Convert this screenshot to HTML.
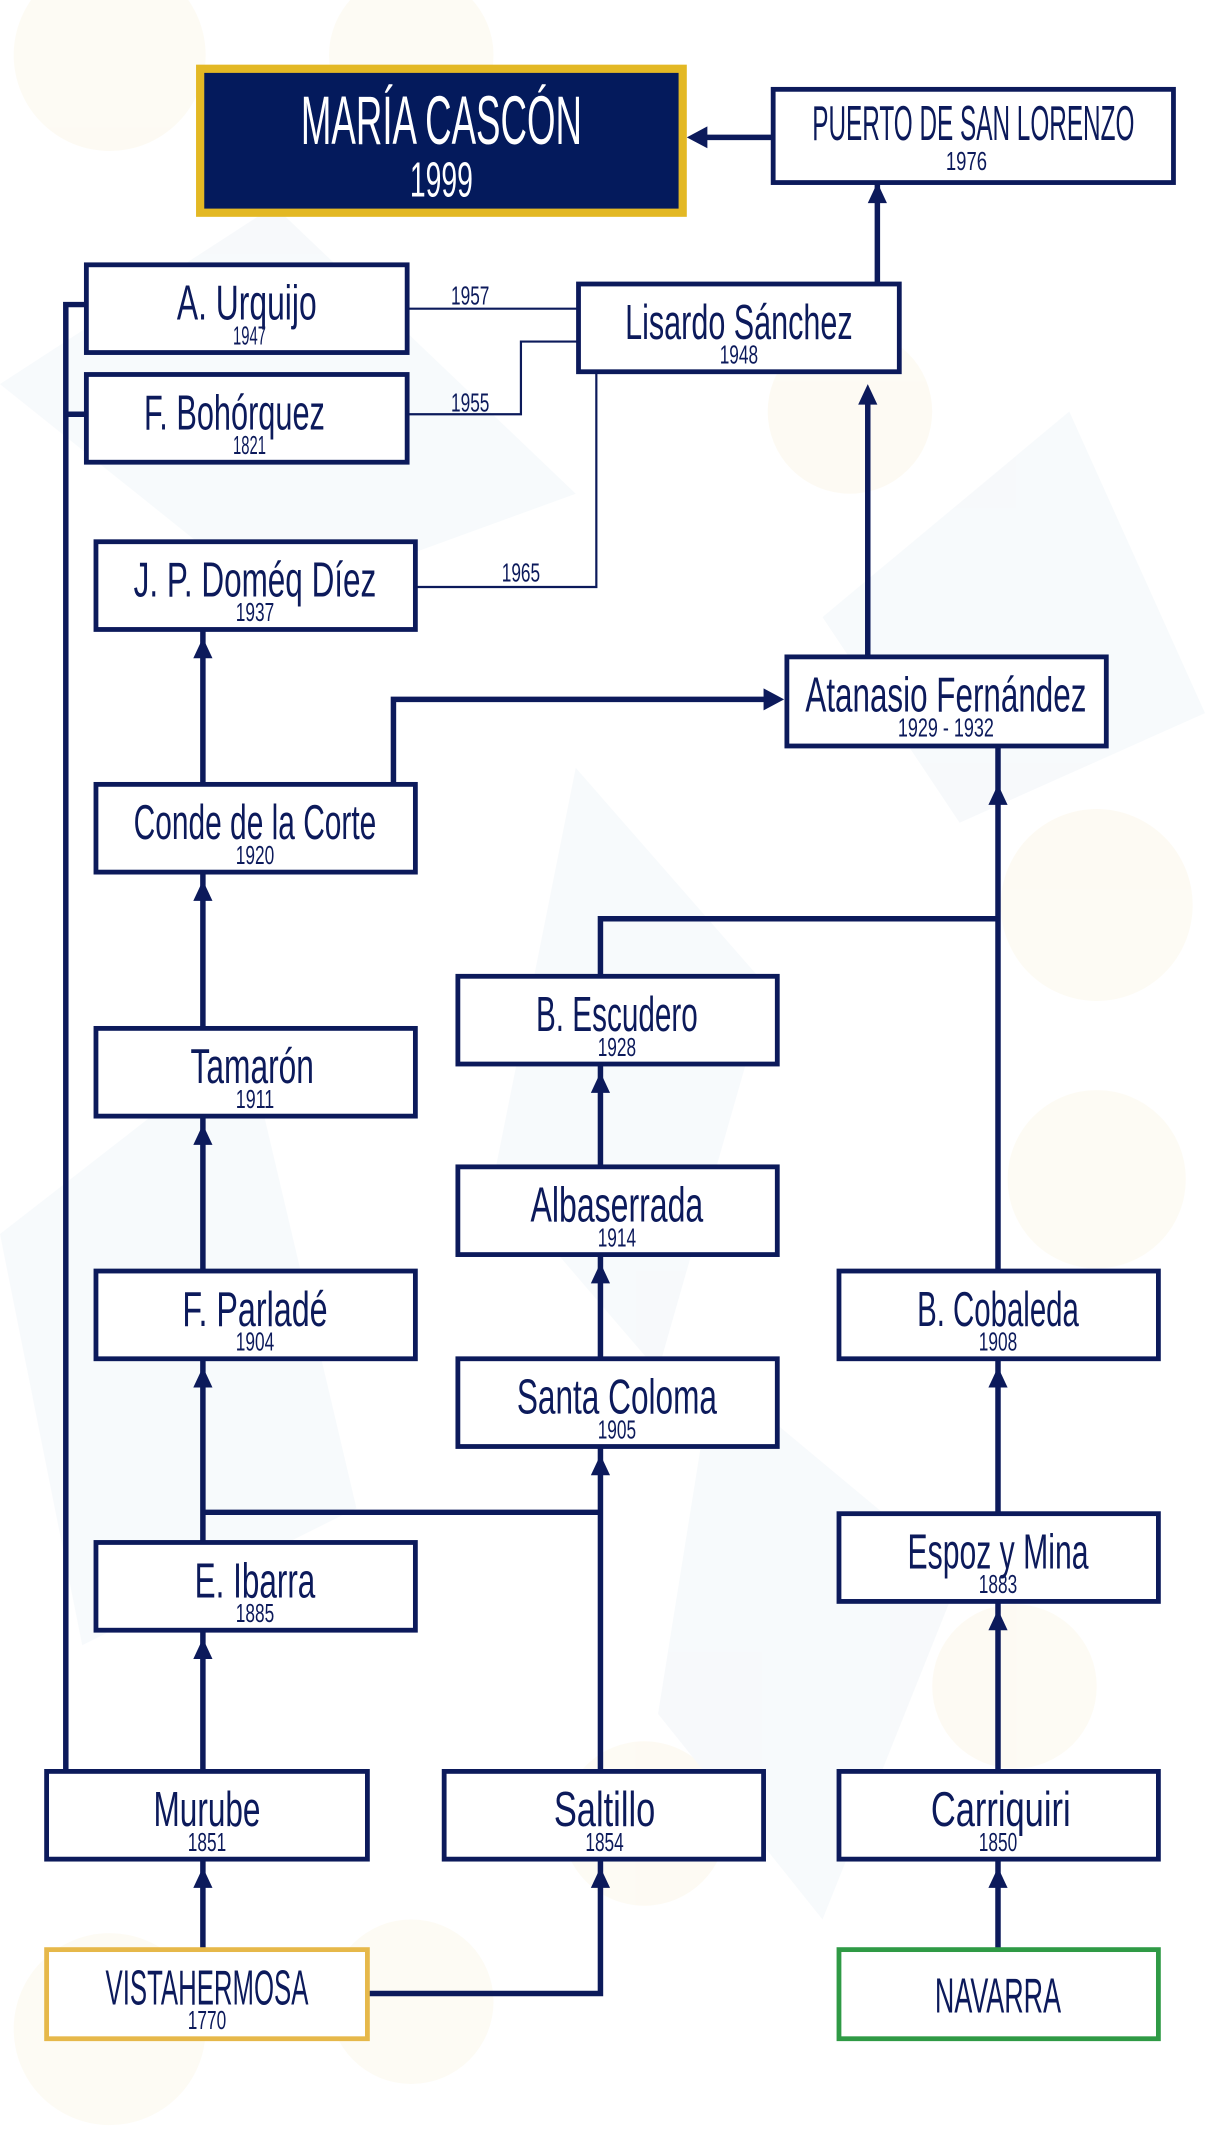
<!DOCTYPE html>
<html><head><meta charset="utf-8"><style>
html,body{margin:0;padding:0;background:#fff;}
svg{display:block;}
text{font-family:"Liberation Sans Narrow","Liberation Sans",sans-serif;fill:#0c1a5b;text-anchor:middle;}
</style></head><body>
<svg width="1205" height="2150" viewBox="0 0 879 1568" xmlns="http://www.w3.org/2000/svg">
<g opacity="0.45">
<circle cx="80" cy="40" r="70" fill="#fbf6e6"/>
<circle cx="300" cy="40" r="60" fill="#fbf6e6"/>
<circle cx="620" cy="300" r="60" fill="#fbf6e6"/>
<circle cx="800" cy="660" r="70" fill="#fbf6e6"/>
<circle cx="800" cy="860" r="65" fill="#fbf6e6"/>
<circle cx="740" cy="1230" r="60" fill="#fbf6e6"/>
<circle cx="470" cy="1330" r="60" fill="#fbf6e6"/>
<circle cx="80" cy="1480" r="70" fill="#fbf6e6"/>
<circle cx="300" cy="1460" r="60" fill="#fbf6e6"/>
<polygon points="0,280 200,150 420,360 200,440" fill="#eef3f8"/>
<polygon points="420,560 560,720 480,1000 360,860" fill="#eef3f8"/>
<polygon points="0,900 180,760 260,1100 60,1200" fill="#eef3f8"/>
<polygon points="520,1000 700,1150 600,1400 480,1250" fill="#eef3f8"/>
<polygon points="600,450 780,300 879,520 700,600" fill="#eef3f8"/>
</g>
<g stroke="#0c1a5b" fill="none">
<g stroke-width="1.6">
<polyline points="298,225 421,225"/>
<polyline points="298,302 380,302 380,249 421,249"/>
<polyline points="304,428 435,428 435,272"/>
</g>
<g stroke-width="4">
<polyline points="48,1291 48,222 62,222"/>
<line x1="48" y1="302" x2="62" y2="302"/>
<line x1="148" y1="1421" x2="148" y2="1357"/>
<line x1="148" y1="1291" x2="148" y2="1190"/>
<line x1="148" y1="1124" x2="148" y2="992"/>
<line x1="148" y1="926" x2="148" y2="815"/>
<line x1="148" y1="749" x2="148" y2="637"/>
<line x1="148" y1="571" x2="148" y2="460"/>
<line x1="148" y1="1103" x2="438" y2="1103"/>
<polyline points="287,571 287,510 560,510"/>
<polyline points="269,1454 438,1454 438,1357"/>
<line x1="438" y1="1291" x2="438" y2="1056"/>
<line x1="438" y1="990" x2="438" y2="916"/>
<line x1="438" y1="850" x2="438" y2="777"/>
<polyline points="438,711 438,670 728,670"/>
<line x1="728" y1="1421" x2="728" y2="1357"/>
<line x1="728" y1="1291" x2="728" y2="1169"/>
<line x1="728" y1="1103" x2="728" y2="992"/>
<line x1="728" y1="926" x2="728" y2="545"/>
<line x1="633" y1="478" x2="633" y2="285"/>
<line x1="640" y1="206" x2="640" y2="134"/>
<line x1="563" y1="100" x2="512" y2="100"/>
</g>
</g>
<g fill="#0c1a5b">
<polygon points="141,1377 155,1377 148,1362"/>
<polygon points="141,1210 155,1210 148,1195"/>
<polygon points="141,1012 155,1012 148,997"/>
<polygon points="141,835 155,835 148,820"/>
<polygon points="141,657 155,657 148,642"/>
<polygon points="141,480 155,480 148,465"/>
<polygon points="431,1377 445,1377 438,1362"/>
<polygon points="431,1076 445,1076 438,1061"/>
<polygon points="431,936 445,936 438,921"/>
<polygon points="431,797 445,797 438,782"/>
<polygon points="721,1377 735,1377 728,1362"/>
<polygon points="721,1189 735,1189 728,1174"/>
<polygon points="721,1012 735,1012 728,997"/>
<polygon points="721,587 735,587 728,572"/>
<polygon points="626,295 640,295 633,280"/>
<polygon points="633,148 647,148 640,133"/>
<polygon points="516,92 516,108 501,100"/>
<polygon points="557,502 557,518 572,510"/>
</g>
<rect x="146" y="50" width="352" height="105" fill="#041a5c" stroke="#e3b824" stroke-width="6"/>
<text x="322" y="105" font-size="50" style="fill:#fff" textLength="205" lengthAdjust="spacingAndGlyphs">MARÍA CASCÓN</text>
<text x="322" y="143" font-size="36" style="fill:#fff" textLength="46" lengthAdjust="spacingAndGlyphs">1999</text>
<g fill="#fff" stroke="#0c1a5b" stroke-width="3.5">
<rect x="564" y="65" width="292" height="68"/>
<rect x="63" y="193" width="234" height="64"/>
<rect x="63" y="273" width="234" height="64"/>
<rect x="422" y="207" width="234" height="64"/>
<rect x="70" y="395" width="233" height="64"/>
<rect x="574" y="479" width="233" height="65"/>
<rect x="70" y="572" width="233" height="64"/>
<rect x="334" y="712" width="233" height="64"/>
<rect x="70" y="750" width="233" height="64"/>
<rect x="334" y="851" width="233" height="64"/>
<rect x="70" y="927" width="233" height="64"/>
<rect x="612" y="927" width="233" height="64"/>
<rect x="334" y="991" width="233" height="64"/>
<rect x="70" y="1125" width="233" height="64"/>
<rect x="612" y="1104" width="233" height="64"/>
<rect x="34" y="1292" width="234" height="64"/>
<rect x="324" y="1292" width="233" height="64"/>
<rect x="612" y="1292" width="233" height="64"/>
<rect x="34" y="1422" width="234" height="65" stroke="#e6b84a"/>
<rect x="612" y="1422" width="233" height="65" stroke="#2f9a45"/>
</g>
<g font-size="36">
<text x="710" y="102" textLength="235" lengthAdjust="spacingAndGlyphs">PUERTO DE SAN LORENZO</text>
<text x="180" y="233" textLength="102" lengthAdjust="spacingAndGlyphs">A. Urquijo</text>
<text x="171" y="313" textLength="132" lengthAdjust="spacingAndGlyphs">F. Bohórquez</text>
<text x="539" y="247" textLength="166" lengthAdjust="spacingAndGlyphs">Lisardo Sánchez</text>
<text x="186" y="435" textLength="177" lengthAdjust="spacingAndGlyphs">J. P. Doméq Díez</text>
<text x="690" y="519" textLength="205" lengthAdjust="spacingAndGlyphs">Atanasio Fernández</text>
<text x="186" y="612" textLength="177" lengthAdjust="spacingAndGlyphs">Conde de la Corte</text>
<text x="450" y="752" textLength="118" lengthAdjust="spacingAndGlyphs">B. Escudero</text>
<text x="184" y="790" textLength="90" lengthAdjust="spacingAndGlyphs">Tamarón</text>
<text x="450" y="891" textLength="126" lengthAdjust="spacingAndGlyphs">Albaserrada</text>
<text x="186" y="967" textLength="106" lengthAdjust="spacingAndGlyphs">F. Parladé</text>
<text x="728" y="967" textLength="118" lengthAdjust="spacingAndGlyphs">B. Cobaleda</text>
<text x="450" y="1031" textLength="146" lengthAdjust="spacingAndGlyphs">Santa Coloma</text>
<text x="186" y="1165" textLength="88" lengthAdjust="spacingAndGlyphs">E. Ibarra</text>
<text x="728" y="1144" textLength="132" lengthAdjust="spacingAndGlyphs">Espoz y Mina</text>
<text x="151" y="1332" textLength="78" lengthAdjust="spacingAndGlyphs">Murube</text>
<text x="441" y="1332" textLength="74" lengthAdjust="spacingAndGlyphs">Saltillo</text>
<text x="730" y="1332" textLength="102" lengthAdjust="spacingAndGlyphs">Carriquiri</text>
<text x="151" y="1462" textLength="148" lengthAdjust="spacingAndGlyphs">VISTAHERMOSA</text>
<text x="728" y="1468" textLength="92" lengthAdjust="spacingAndGlyphs">NAVARRA</text>
</g>
<g font-size="19">
<text x="705" y="124" textLength="30" lengthAdjust="spacingAndGlyphs">1976</text>
<text x="182" y="251" textLength="24" lengthAdjust="spacingAndGlyphs">1947</text>
<text x="182" y="331" textLength="24" lengthAdjust="spacingAndGlyphs">1821</text>
<text x="539" y="265" textLength="28" lengthAdjust="spacingAndGlyphs">1948</text>
<text x="186" y="453" textLength="28" lengthAdjust="spacingAndGlyphs">1937</text>
<text x="690" y="537" textLength="70" lengthAdjust="spacingAndGlyphs">1929 - 1932</text>
<text x="186" y="630" textLength="28" lengthAdjust="spacingAndGlyphs">1920</text>
<text x="450" y="770" textLength="28" lengthAdjust="spacingAndGlyphs">1928</text>
<text x="186" y="808" textLength="28" lengthAdjust="spacingAndGlyphs">1911</text>
<text x="450" y="909" textLength="28" lengthAdjust="spacingAndGlyphs">1914</text>
<text x="186" y="985" textLength="28" lengthAdjust="spacingAndGlyphs">1904</text>
<text x="728" y="985" textLength="28" lengthAdjust="spacingAndGlyphs">1908</text>
<text x="450" y="1049" textLength="28" lengthAdjust="spacingAndGlyphs">1905</text>
<text x="186" y="1183" textLength="28" lengthAdjust="spacingAndGlyphs">1885</text>
<text x="728" y="1162" textLength="28" lengthAdjust="spacingAndGlyphs">1883</text>
<text x="151" y="1350" textLength="28" lengthAdjust="spacingAndGlyphs">1851</text>
<text x="441" y="1350" textLength="28" lengthAdjust="spacingAndGlyphs">1854</text>
<text x="728" y="1350" textLength="28" lengthAdjust="spacingAndGlyphs">1850</text>
<text x="151" y="1480" textLength="28" lengthAdjust="spacingAndGlyphs">1770</text>
<text x="343" y="222" textLength="28" lengthAdjust="spacingAndGlyphs">1957</text>
<text x="343" y="300" textLength="28" lengthAdjust="spacingAndGlyphs">1955</text>
<text x="380" y="424" textLength="28" lengthAdjust="spacingAndGlyphs">1965</text>
</g>
</svg>
</body></html>
